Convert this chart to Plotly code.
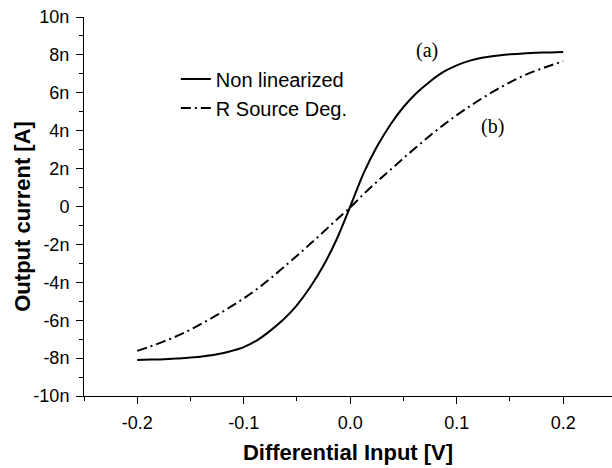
import plotly.graph_objects as go

# Differential input voltage [V]
vin = [-0.2, -0.1875, -0.175, -0.1625, -0.15, -0.1375, -0.125, -0.1125, -0.1,
       -0.0875, -0.075, -0.0625, -0.05, -0.0375, -0.025, -0.0125, 0.0,
       0.0125, 0.025, 0.0375, 0.05, 0.0625, 0.075, 0.0875, 0.1,
       0.1125, 0.125, 0.1375, 0.15, 0.1625, 0.175, 0.1875, 0.2]
# Output current [nA], curve (a): non linearized
i_nonlin = [-8.10, -8.08, -8.06, -8.02, -7.97, -7.90, -7.80, -7.64, -7.42,
            -7.06, -6.55, -5.95, -5.20, -4.25, -3.10, -1.70, 0.0,
            1.75, 3.15, 4.30, 5.25, 6.00, 6.60, 7.10, 7.45,
            7.70, 7.86, 7.96, 8.03, 8.08, 8.11, 8.13, 8.15]
# Output current [nA], curve (b): R source degeneration
i_rsd = [-7.62, -7.38, -7.12, -6.83, -6.50, -6.12, -5.72, -5.30, -4.85,
         -4.35, -3.80, -3.20, -2.60, -1.97, -1.33, -0.68, -0.05,
         0.65, 1.30, 1.92, 2.55, 3.15, 3.75, 4.30, 4.82,
         5.30, 5.75, 6.17, 6.55, 6.90, 7.18, 7.43, 7.67]

series_names = ["Non linearized", "R Source Deg."]
x_tickvals = [-0.2, -0.1, 0.0, 0.1, 0.2]
x_ticktext = ["-0.2", "-0.1", "0.0", "0.1", "0.2"]
y_tickvals = [-10, -8, -6, -4, -2, 0, 2, 4, 6, 8, 10]
y_ticktext = ["-10n", "-8n", "-6n", "-4n", "-2n", "0", "2n", "4n", "6n", "8n", "10n"]
curve_labels = ["(a)", "(b)"]
x_title = "Differential Input [V]"
y_title = "Output current [A]"

SANS = "Liberation Sans, Arial, Helvetica, sans-serif"
SERIF = "Liberation Serif, Times New Roman, serif"

fig = go.Figure()
fig.add_trace(go.Scatter(x=vin, y=i_nonlin, mode="lines", name=series_names[0],
                         line=dict(color="black", width=2, shape="spline")))
fig.add_trace(go.Scatter(x=vin, y=i_rsd, mode="lines", name=series_names[1],
                         line=dict(color="black", width=2, shape="spline",
                                   dash="10px,4px,2px,4px")))

axis_common = dict(showline=True, linecolor="black", linewidth=1, showgrid=False,
                   zeroline=False, ticks="outside", ticklen=7, tickwidth=1,
                   tickcolor="black", mirror=False, ticklabelstandoff=3,
                   tickfont=dict(family=SANS, size=18, color="black"))

fig.update_xaxes(range=[-0.25, 0.2458], tickvals=x_tickvals, ticktext=x_ticktext,
                 minor=dict(dtick=0.05, tick0=0, ticklen=4, tickcolor="black",
                            ticks="outside"),
                 title=dict(text="<b>" + x_title + "</b>", standoff=13,
                            font=dict(family=SANS, size=22, color="black")),
                 **axis_common)
fig.update_yaxes(range=[-10, 10], tickvals=y_tickvals, ticktext=y_ticktext,
                 minor=dict(dtick=1, tick0=0, ticklen=4, tickcolor="black",
                            ticks="outside"),
                 **axis_common)

# y-axis title placed as a rotated annotation for exact position
fig.add_annotation(xref="paper", yref="paper", x=-0.1155, y=0.473,
                   text="<b>" + y_title + "</b>", textangle=-90, showarrow=False,
                   xanchor="center", yanchor="middle",
                   font=dict(family=SANS, size=22, color="black"))

fig.add_annotation(x=0.0722, y=8.24, text=curve_labels[0], showarrow=False,
                   font=dict(family=SERIF, size=20, color="black"))
fig.add_annotation(x=0.134, y=4.22, text=curve_labels[1], showarrow=False,
                   font=dict(family=SERIF, size=20, color="black"))

fig.update_layout(
    width=612, height=468,
    margin=dict(l=84, r=0, t=17, b=72, autoexpand=False),
    paper_bgcolor="white", plot_bgcolor="white",
    showlegend=True,
    legend=dict(x=0.174, y=0.888, xanchor="left", yanchor="top",
                bgcolor="rgba(0,0,0,0)", borderwidth=0, tracegroupgap=0,
                font=dict(family=SANS, size=20, color="black")),
)

fig.write_html("out.html")
